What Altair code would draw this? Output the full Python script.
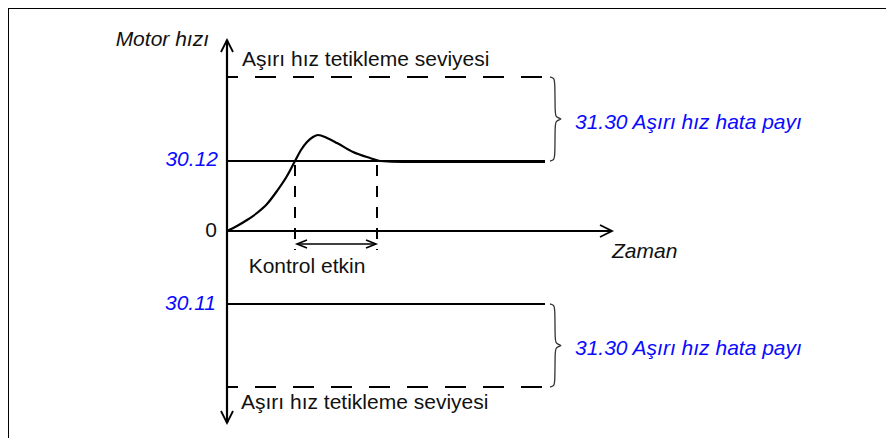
import altair as alt
import pandas as pd

# ---------------- data (diagram units: t = time, v = speed; origin at axes crossing) ----
level_labels = ["Aşırı hız tetikleme seviyesi", "30.12", "30.11", "Aşırı hız tetikleme seviyesi"]
level_values = [154, 70, -73, -156]
level_dashed = [True, False, False, True]
level_end = 318

# motor speed response curve
curve_t = [0, 10, 20, 30, 40, 50, 60, 68, 74, 80, 86, 91, 100, 110, 126, 143, 153, 176, 318]
curve_v = [0, 5, 11, 18, 27, 40, 55, 70, 81, 89, 94, 96, 93, 88, 79, 73, 70, 69, 69]

# control active window
control_t = [68, 150]
control_top = 70
control_bottom = -19
control_arrow_v = -13

# axes extents
y_axis_top = 191
y_axis_bottom = -192
x_axis_end = 385

# margin braces (pairs of levels)
brace_pairs = [(154, 70), (-73, -156)]
brace_t = 323

# texts
ref_labels = ["30.12", "30.11"]
ref_label_v = [71, -73]
ref_label_t = [-9, -11]
zero_label = "0"
margin_text = "31.30 Aşırı hız hata payı"
margin_text_v = [108, -118]
trip_text_v = [171, -172]
axis_y_title = "Motor hızı"
axis_x_title = "Zaman"
control_text = "Kontrol etkin"

# ---------------- layout ----------------
W, H = 878, 430
ORIGIN_X, ORIGIN_Y, PAGE = 227, 231, 8
x_dom = [PAGE - ORIGIN_X, PAGE + W - ORIGIN_X]
y_dom = [ORIGIN_Y - PAGE - H, ORIGIN_Y - PAGE]
xs = alt.Scale(domain=x_dom, nice=False, zero=False)
ys = alt.Scale(domain=y_dom, nice=False, zero=False)
FONT = "Liberation Sans"
BLUE = "#0a0aff"
INK = "#111111"
LW = 2.2


def enc(**extra):
    d = dict(x=alt.X("t:Q", scale=xs, axis=None), y=alt.Y("v:Q", scale=ys, axis=None))
    d.update(extra)
    return d


# level lines
lv = pd.DataFrame({"v": level_values, "dashed": level_dashed})
lv["t"] = 0
lv["t2"] = level_end
solid = alt.Chart(lv[~lv.dashed]).mark_rule(strokeWidth=LW, color="black").encode(**enc(x2="t2:Q"))
dashed = alt.Chart(lv[lv.dashed]).mark_rule(
    strokeWidth=LW, color="black", strokeDash=[21, 17], strokeDashOffset=10
).encode(**enc(x2="t2:Q"))

# axes
axes_df = pd.DataFrame({"t": [0, 0], "v": [y_axis_bottom, 0], "t2": [0, x_axis_end], "v2": [y_axis_top, 0]})
axes = alt.Chart(axes_df).mark_rule(strokeWidth=LW, color="black").encode(**enc(x2="t2:Q", y2="v2:Q"))
heads_df = pd.DataFrame({"t": [0, 0, x_axis_end], "v": [y_axis_top, y_axis_bottom, 0], "angle": [0, 180, 90]})
heads = alt.Chart(heads_df).mark_point(
    shape="M-0.5,1L0,0L0.5,1", size=576, filled=False, strokeWidth=1.8, color="black", opacity=1
).encode(**enc(angle=alt.Angle("angle:Q", scale=None)))

# curve
cv = pd.DataFrame({"t": curve_t, "v": curve_v})
curve = alt.Chart(cv).mark_line(interpolate="monotone", strokeWidth=LW, color="black").encode(**enc())

# control window
cw = pd.DataFrame({"t": control_t, "v": [control_top] * 2, "v2": [control_bottom] * 2})
cwin = alt.Chart(cw).mark_rule(strokeWidth=2, color="black", strokeDash=[11, 10], strokeDashOffset=-4).encode(
    **enc(y2="v2:Q")
)
ca = pd.DataFrame({"t": [control_t[0] + 2], "t2": [control_t[1] - 1], "v": [control_arrow_v]})
carrow = alt.Chart(ca).mark_rule(strokeWidth=1.6, color="black").encode(**enc(x2="t2:Q"))
cah = pd.DataFrame({"t": [control_t[0] + 2, control_t[1] - 1], "v": [control_arrow_v] * 2, "angle": [270, 90]})
cheads = alt.Chart(cah).mark_point(
    shape="M-0.4,1L0,0L0.4,1", size=400, filled=False, strokeWidth=1.6, color="black", opacity=1
).encode(**enc(angle=alt.Angle("angle:Q", scale=None)))

# braces
rows = []
for k, (a, b) in enumerate(brace_pairs):
    m = (a + b) / 2
    pts = [(0, a), (4, a - 1), (5, a - 5), (5, m + 5), (6, m + 2), (11, m), (11, m), (6, m - 2),
           (5, m - 5), (5, b + 5), (4, b + 1), (0, b)]
    for i, (dx, vv) in enumerate(pts):
        rows.append({"t": brace_t + dx, "v": vv, "o": i, "g": k})
braces = alt.Chart(pd.DataFrame(rows)).mark_line(interpolate="basis", strokeWidth=1.3, color="#333333").encode(
    **enc(order="o:Q", detail="g:N")
)


def text_layer(df, align, italic, color):
    return alt.Chart(df).mark_text(
        align=align, baseline="middle", font=FONT, fontSize=21,
        fontStyle="italic" if italic else "normal", color=color
    ).encode(**enc(text="label:N"))


t_ref = text_layer(pd.DataFrame({"t": ref_label_t, "v": ref_label_v, "label": ref_labels}), "right", True, BLUE)
t_zero = text_layer(pd.DataFrame({"t": [-10], "v": [0], "label": [zero_label]}), "right", False, INK)
t_ytitle = text_layer(pd.DataFrame({"t": [-18], "v": [y_axis_top], "label": [axis_y_title]}), "right", True, INK)
t_trip = text_layer(pd.DataFrame({"t": [15, 14], "v": trip_text_v, "label": [level_labels[0], level_labels[3]]}),
                    "left", False, INK)
t_margin = text_layer(pd.DataFrame({"t": [348, 348], "v": margin_text_v, "label": [margin_text] * 2}),
                      "left", True, BLUE)
t_xtitle = text_layer(pd.DataFrame({"t": [x_axis_end], "v": [-21], "label": [axis_x_title]}), "left", True, INK)
t_ctrl = text_layer(pd.DataFrame({"t": [80], "v": [-36], "label": [control_text]}), "center", False, INK)

# frame (top and left edges)
fr = pd.DataFrame({"t": [x_dom[0], x_dom[0] + 0.5], "v": [y_dom[1] - 0.5, y_dom[0]],
                   "t2": [x_dom[1], x_dom[0] + 0.5], "v2": [y_dom[1] - 0.5, y_dom[1]]})
frame = alt.Chart(fr).mark_rule(strokeWidth=1, color="black").encode(**enc(x2="t2:Q", y2="v2:Q"))

chart = alt.layer(
    frame, solid, dashed, axes, heads, curve, cwin, carrow, cheads, braces,
    t_ref, t_zero, t_ytitle, t_trip, t_margin, t_xtitle, t_ctrl
).properties(
    width=W, height=H, padding=0, autosize=alt.AutoSizeParams(type="none")
).configure_view(stroke=None)

chart.save("out.html", embed_options={"renderer": "svg", "actions": False})
